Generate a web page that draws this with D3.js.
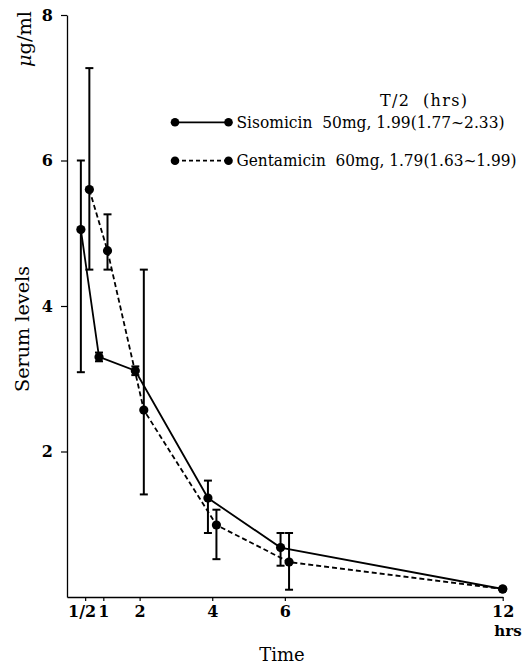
<!DOCTYPE html>
<html>
<head>
<meta charset="utf-8">
<script src="https://cdn.jsdelivr.net/npm/d3@7"></script>
<style>
  html, body { margin: 0; padding: 0; background: #fff; }
  svg { display: block; }
  text { font-family: "DejaVu Serif", "Liberation Serif", serif; fill: #000; white-space: pre; }
</style>
</head>
<body>
<svg id="chart" width="532" height="667"></svg>
<script>
// ---- data ----
const times = [0.5, 1, 2, 4, 6, 12];
const timeLabels = ["1/2", "1", "2", "4", "6", "12"];
const yTicks = [2, 4, 6, 8];

const sisMean  = [5.05, 3.30, 3.11, 1.36, 0.68, 0.11];
const sisUpper = [6.00, 3.36, 3.17, 1.60, 0.88, 0.11];
const sisLower = [3.09, 3.24, 3.05, 0.88, 0.43, 0.11];

const genMean  = [5.60, 4.76, 2.57, 0.99, 0.48, 0.11];
const genUpper = [7.27, 5.26, 4.50, 1.20, 0.88, 0.11];
const genLower = [4.50, 4.50, 1.41, 0.52, 0.10, 0.11];

const legendTitle = "T/2  (hrs)";
const sisLabel = "Sisomicin  50mg, 1.99(1.77~2.33)";
const genLabel = "Gentamicin  60mg, 1.79(1.63~1.99)";

// ---- layout ----
const svg = d3.select("#chart");
const x = d3.scaleLinear().domain([0, 12]).range([67, 502.7]);
const y = d3.scaleLinear().domain([0, 8]).range([597, 15]);

const series = [
  { mean: sisMean, upper: sisUpper, lower: sisLower, dodge: -4.3, dash: null },
  { mean: genMean, upper: genUpper, lower: genLower, dodge: 4.2, dash: "5,3" }
];

// axes
const xAxis = d3.axisBottom(x).tickValues(times)
  .tickFormat((d, i) => timeLabels[i]).tickSize(4).tickSizeOuter(0).tickPadding(5);
const gx = svg.append("g").attr("transform", `translate(0,${y(0)})`).call(xAxis);
gx.selectAll("text").style("font-size", "16px").style("font-weight", "bold")
  .attr("dx", (d, i) => i === 0 ? "-3.5" : "0");
gx.select(".domain").attr("stroke-width", 1.3);
gx.selectAll(".tick line").attr("stroke-width", 1.2);

const yAxis = d3.axisLeft(y).tickValues(yTicks).tickFormat(d3.format("d"))
  .tickSize(6).tickSizeOuter(0).tickPadding(8);
const gy = svg.append("g").attr("transform", `translate(${x(0)},0)`).call(yAxis);
gy.selectAll("text").style("font-size", "16px").style("font-weight", "bold");
gy.select(".domain").attr("stroke-width", 1.3);
gy.selectAll(".tick line").attr("stroke-width", 1.2);

// axis titles
svg.append("text").attr("x", 508).attr("y", 636).attr("text-anchor", "middle")
  .style("font-size", "15px").style("font-weight", "bold").text("hrs");
svg.append("text").attr("x", 282).attr("y", 661).attr("text-anchor", "middle")
  .style("font-size", "18px").text("Time");
svg.append("text").attr("transform", "translate(29,392) rotate(-90)")
  .attr("text-anchor", "start").style("font-size", "19px")
  .attr("textLength", 126).attr("lengthAdjust", "spacingAndGlyphs").text("Serum levels");
const unit = svg.append("text").attr("transform", "translate(31,67) rotate(-90)")
  .attr("text-anchor", "start").style("font-size", "18px")
  .attr("textLength", 56).attr("lengthAdjust", "spacingAndGlyphs");
unit.append("tspan").style("font-style", "italic").text("μ");
unit.append("tspan").text("g/ml");

// series
const xPos = (s, i) => x(times[i]) + (times[i] < 12 ? s.dodge : 0);

series.forEach(s => {
  const line = d3.line().x((d, i) => xPos(s, i)).y(d => y(d));
  svg.append("path").datum(s.mean).attr("d", line)
    .attr("fill", "none").attr("stroke", "#000").attr("stroke-width", 1.8)
    .attr("stroke-dasharray", s.dash);

  const eb = svg.append("g").attr("stroke", "#000").attr("stroke-width", 2);
  s.mean.forEach((m, i) => {
    if (s.upper[i] === s.lower[i]) return;
    const cx = xPos(s, i);
    eb.append("line").attr("x1", cx).attr("x2", cx).attr("y1", y(s.upper[i])).attr("y2", y(s.lower[i]));
    eb.append("line").attr("x1", cx - 4).attr("x2", cx + 4).attr("y1", y(s.upper[i])).attr("y2", y(s.upper[i]));
    eb.append("line").attr("x1", cx - 4).attr("x2", cx + 4).attr("y1", y(s.lower[i])).attr("y2", y(s.lower[i]));
  });

  svg.append("g").selectAll("circle").data(s.mean).join("circle")
    .attr("cx", (d, i) => xPos(s, i)).attr("cy", d => y(d)).attr("r", 4.6).attr("fill", "#000");
});

// legend
svg.append("text").attr("x", 380).attr("y", 106).style("font-size", "16px")
  .attr("textLength", 87).attr("lengthAdjust", "spacing").text(legendTitle);

const legRows = [
  { y: 122.3, dash: null, label: sisLabel, base: 127.5, len: 268 },
  { y: 160.7, dash: "4,3", label: genLabel, base: 165.5, len: 280 }
];
legRows.forEach(r => {
  svg.append("line").attr("x1", 175).attr("x2", 228.5).attr("y1", r.y).attr("y2", r.y)
    .attr("stroke", "#000").attr("stroke-width", 1.8).attr("stroke-dasharray", r.dash);
  [175, 228.5].forEach(cx => svg.append("circle").attr("cx", cx).attr("cy", r.y).attr("r", 4.3).attr("fill", "#000"));
  svg.append("text").attr("x", 236.5).attr("y", r.base).style("font-size", "16px")
    .attr("textLength", r.len).attr("lengthAdjust", "spacingAndGlyphs").text(r.label);
});
</script>
</body>
</html>
